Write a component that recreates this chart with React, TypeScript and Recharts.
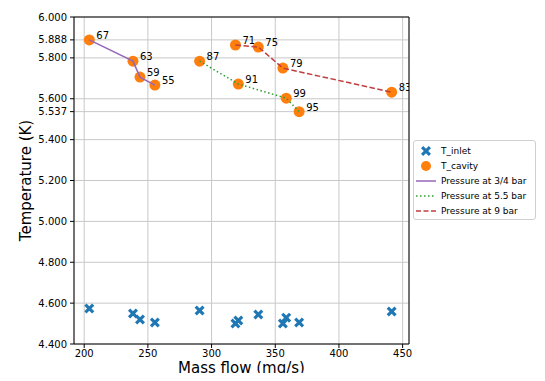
import { CartesianGrid, ComposedChart, ReferenceLine, Scatter, XAxis, YAxis } from "recharts";

// Mass flow (mg/s), cavity temperature (K), inlet temperature (K) and point labels per pressure
const flow34 = [204, 238.3, 243.8, 255.5];
const cavity34 = [5.888, 5.784, 5.706, 5.667];
const inlet34 = [4.574, 4.549, 4.52, 4.505];
const labels34 = [67, 63, 59, 55];

const flow55 = [290.6, 321, 358.6, 368.75];
const cavity55 = [5.784, 5.672, 5.603, 5.537];
const inlet55 = [4.564, 4.515, 4.529, 4.505];
const labels55 = [87, 91, 99, 95];

const flow9 = [318.75, 336.7, 356, 441.4];
const cavity9 = [5.863, 5.853, 5.75, 5.632];
const inlet9 = [4.5, 4.544, 4.5, 4.559];
const labels9 = [71, 75, 79, 83];

const yTicks = [4.4, 4.6, 4.8, 5.0, 5.2, 5.4, 5.537, 5.6, 5.8, 5.888, 6.0];
const xTicks = [200, 250, 300, 350, 400, 450];

type Pt = { x: number; y: number; label?: number };

const zip = (xs: number[], ys: number[], ls?: number[]): Pt[] =>
  xs.map((x, i) => ({ x, y: ys[i], label: ls ? ls[i] : undefined }));

const inletData = [
  ...zip(flow34, inlet34),
  ...zip(flow55, inlet55),
  ...zip(flow9, inlet9),
];
const cavityData = [
  ...zip(flow34, cavity34, labels34),
  ...zip(flow55, cavity55, labels55),
  ...zip(flow9, cavity9, labels9),
];

const BLUE = "#1f77b4";
const ORANGE = "#ff7f0e";
const PURPLE = "#9467bd";
const GREEN = "#2ca02c";
const RED = "#c03d3e";
const FONT = "'DejaVu Sans', sans-serif";

function XMark({ cx, cy, color = BLUE }: { cx?: number; cy?: number; color?: string }) {
  if (cx == null || cy == null) return <g />;
  const a = 5;
  const w = 2.2;
  const d = `M${cx - a + w},${cy - a} L${cx},${cy - w} L${cx + a - w},${cy - a} L${cx + a},${cy - a + w} L${cx + w},${cy} L${cx + a},${cy + a - w} L${cx + a - w},${cy + a} L${cx},${cy + w} L${cx - a + w},${cy + a} L${cx - a},${cy + a - w} L${cx - w},${cy} L${cx - a},${cy - a + w} Z`;
  return <path d={d} fill={color} />;
}

function Dot(props: any) {
  const { cx, cy, payload } = props;
  if (cx == null || cy == null) return <g />;
  return (
    <g>
      <circle cx={cx} cy={cy} r={5.5} fill={ORANGE} />
      <text x={cx + 7} y={cy - 1} fontSize={10} fontFamily={FONT} fill="#000">
        {payload.label}
      </text>
    </g>
  );
}

const noShape = () => <g />;

// the page only shows x 8..537, y 8..373, so the legend is kept inside that
function LegendBox() {
  const row = { display: "flex", alignItems: "center", height: 15.2, whiteSpace: "nowrap" } as const;
  const sym = { width: 24, display: "flex", justifyContent: "center", flexShrink: 0 } as const;
  return (
    <div
      style={{
        position: "absolute",
        left: 413,
        top: 140,
        width: 123,
        height: 80,
        border: "1px solid #d0d0d0",
        borderRadius: 3,
        background: "#fff",
        fontFamily: FONT,
        fontSize: 9,
        color: "#000",
        padding: "2px 0",
        boxSizing: "border-box",
        overflow: "hidden",
      }}
    >
      <div style={row}>
        <div style={sym}>
          <svg width={12} height={12}>
            <XMark cx={6} cy={6} />
          </svg>
        </div>
        <span style={{ marginLeft: 3 }}>T_inlet</span>
      </div>
      <div style={row}>
        <div style={sym}>
          <svg width={12} height={12}>
            <circle cx={6} cy={6} r={5} fill={ORANGE} />
          </svg>
        </div>
        <span style={{ marginLeft: 3 }}>T_cavity</span>
      </div>
      <div style={row}>
        <div style={sym}>
          <svg width={20} height={6}>
            <line x1={0} x2={20} y1={3} y2={3} stroke={PURPLE} strokeWidth={1.5} />
          </svg>
        </div>
        <span style={{ marginLeft: 3 }}>Pressure at 3/4 bar</span>
      </div>
      <div style={row}>
        <div style={sym}>
          <svg width={20} height={6}>
            <line x1={0} x2={20} y1={3} y2={3} stroke={GREEN} strokeWidth={1.5} strokeDasharray="1.5 2.5" />
          </svg>
        </div>
        <span style={{ marginLeft: 3 }}>Pressure at 5.5 bar</span>
      </div>
      <div style={row}>
        <div style={sym}>
          <svg width={20} height={6}>
            <line x1={0} x2={20} y1={3} y2={3} stroke={RED} strokeWidth={1.5} strokeDasharray="5 2.5" />
          </svg>
        </div>
        <span style={{ marginLeft: 3 }}>Pressure at 9 bar</span>
      </div>
    </div>
  );
}

export default function App() {
  const tickStyle = { fontSize: 10, fontFamily: FONT, fill: "#000" };
  return (
    <div style={{ position: "relative", width: 545, height: 381, margin: -8, background: "#fff" }}>
      <ComposedChart
        width={545}
        height={381}
        margin={{ top: 17, right: 136, bottom: 0, left: 0 }}
      >
        <CartesianGrid stroke="#c8c8c8" strokeWidth={1} />
        <XAxis
          type="number"
          dataKey="x"
          domain={[192, 455]}
          ticks={xTicks}
          allowDataOverflow
          height={37}
          tick={tickStyle}
          tickSize={4}
          tickMargin={2}
          stroke="#000"
          label={{
            value: "Mass flow (mg/s)",
            position: "insideBottom",
            offset: 8,
            style: { fontSize: 15, fontFamily: FONT, fill: "#000" },
          }}
        />
        <YAxis
          type="number"
          dataKey="y"
          domain={[4.4, 6.0]}
          ticks={yTicks}
          allowDataOverflow
          interval={0}
          width={74}
          tick={tickStyle}
          tickSize={4}
          tickMargin={3}
          stroke="#000"
          tickFormatter={(v: number) => v.toFixed(3)}
          label={{
            value: "Temperature (K)",
            angle: -90,
            position: "insideLeft",
            offset: 26,
            style: { fontSize: 15, fontFamily: FONT, fill: "#000", textAnchor: "middle" },
          }}
        />
        <ReferenceLine y={6.0} stroke="#000" strokeWidth={1} ifOverflow="visible" />
        <ReferenceLine x={455} stroke="#000" strokeWidth={1} ifOverflow="visible" />
        <Scatter data={inletData} fill={BLUE} shape={(p: any) => <XMark cx={p.cx} cy={p.cy} />} isAnimationActive={false} />
        <Scatter data={cavityData} fill={ORANGE} shape={Dot} isAnimationActive={false} />
        <Scatter
          data={zip(flow34, cavity34)}
          line={{ stroke: PURPLE, strokeWidth: 1.5 }}
          shape={noShape}
          isAnimationActive={false}
        />
        <Scatter
          data={zip(flow55, cavity55)}
          line={{ stroke: GREEN, strokeWidth: 1.5, strokeDasharray: "1.5 2.5" }}
          shape={noShape}
          isAnimationActive={false}
        />
        <Scatter
          data={zip(flow9, cavity9)}
          line={{ stroke: RED, strokeWidth: 1.5, strokeDasharray: "5.5 2.5" }}
          shape={noShape}
          isAnimationActive={false}
        />
      </ComposedChart>
      <LegendBox />
    </div>
  );
}
